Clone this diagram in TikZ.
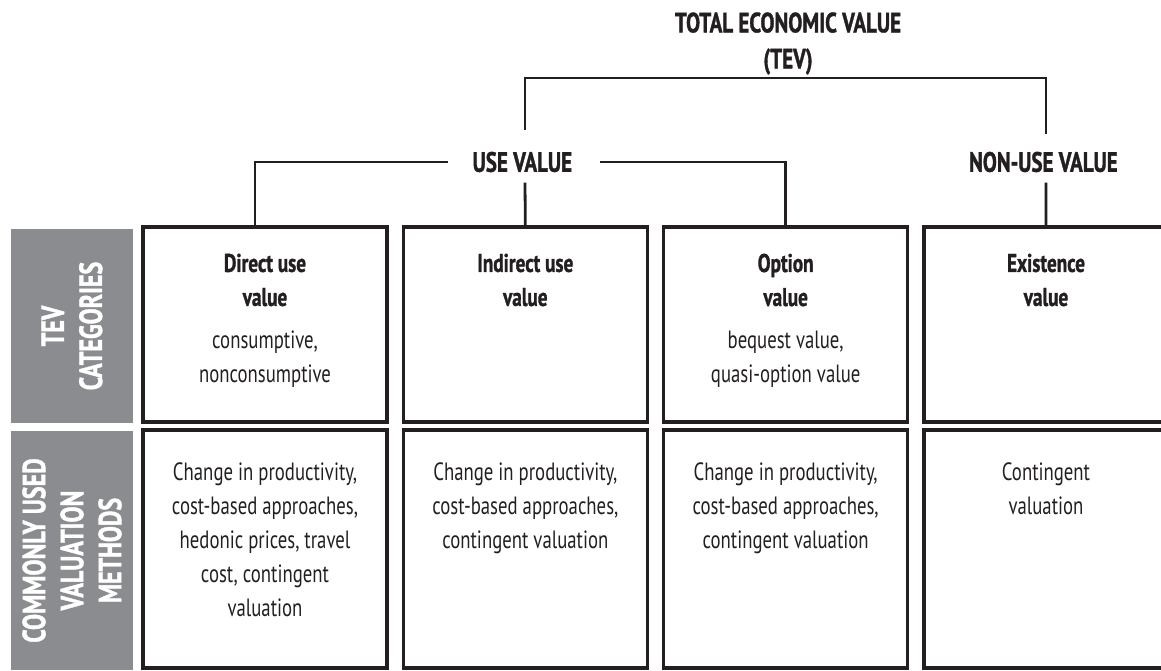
\documentclass[tikz,border=0pt]{standalone}
\usepackage{fontspec}
\setmainfont{PT Sans}[FakeStretch=0.75, BoldFeatures={FakeBold=1.2}]
\usepackage{tikz}
\definecolor{band}{RGB}{139, 140, 144}
\definecolor{ink}{RGB}{35, 31, 32}

\begin{document}
\begin{tikzpicture}[x=0.5pt, y=-0.5pt,
  cell/.style={draw=ink, line width=1.7pt, minimum width=122pt, inner sep=0},
  link/.style={ink, line width=1.4pt},
  toplabel/.style={text=ink, inner sep=0, align=center, font=\bfseries\fontsize{14}{18}\selectfont},
  head/.style={text=ink, inner sep=0, align=center, anchor=north, font=\bfseries\fontsize{12.8}{17}\selectfont},
  body/.style={text=ink, inner sep=0, align=center, anchor=north, font=\fontsize{12.5}{17}\selectfont},
  rowlabel/.style={fill=band, text=white, rotate=90, inner sep=0, minimum height=61pt, align=center, font=\bfseries\fontsize{16}{19}\selectfont}]
  \useasboundingbox (0, 0) rectangle (1161, 670);

  \begin{scope}[shift={(0, 0)}]
    \node[rowlabel, minimum width=97pt] (rowcat) at (72, 326) { TEV\\CATEGORIES };
    \node[rowlabel, minimum width=119.5pt] (rowmth) at (72, 550.5) { COMMONLY USED\\VALUATION\\METHODS };

    \foreach \n in {1, 2, 3, 4} {
      \pgfmathsetmacro{\x}{143 + 260.33 * (\n - 1) + 122};
      \node[cell, minimum height=97.5pt] (cat\n) at (\x, 324.5) {};
      \node[cell, minimum height=119pt] (mth\n) at (\x, 549) {};
    }

    \node[toplabel, anchor=north] (tev) at (788, 12) { TOTAL ECONOMIC VALUE\\(TEV) };
    \node[toplabel] (use) at (525, 162) { USE VALUE };
    \node[toplabel] (nonuse) at (1046, 162) { NON-USE VALUE };

    \draw[link] ([yshift=10.5pt]use.north) |- ([yshift=-1.5pt]tev.south) -| ([yshift=8.5pt]nonuse.north);
    \draw[link] ([xshift=-12.25pt]use.west) -| ([xshift=-5pt]cat1.north);
    \draw[link] ([xshift=11pt]use.east) -| (cat3.north);
    \draw[link] ([yshift=-5pt]use.south) -- (cat2.north);
    \draw[link] ([yshift=-5pt]nonuse.south) -- (cat4.north);

    \node[head] at ([yshift=-14pt]cat1.north) { Direct use\\value };
    \node[head] at ([yshift=-14pt]cat2.north) { Indirect use\\value };
    \node[head] at ([yshift=-14pt]cat3.north) { Option\\value };
    \node[head] at ([yshift=-14pt]cat4.north) { Existence\\value };

    \node[body] at ([yshift=-52.5pt]cat1.north) { consumptive,\\nonconsumptive };
    \node[body] at ([yshift=-52.5pt]cat3.north) { bequest value,\\quasi-option value };

    \node[body] at ([yshift=-17pt]mth1.north) { Change in productivity,\\cost-based approaches,\\hedonic prices, travel\\cost, contingent\\valuation };
    \node[body] at ([yshift=-17pt]mth2.north) { Change in productivity,\\cost-based approaches,\\contingent valuation };
    \node[body] at ([yshift=-17pt]mth3.north) { Change in productivity,\\cost-based approaches,\\contingent valuation };
    \node[body] at ([yshift=-17pt]mth4.north) { Contingent\\valuation };
  \end{scope}

\end{tikzpicture}
\end{document}
